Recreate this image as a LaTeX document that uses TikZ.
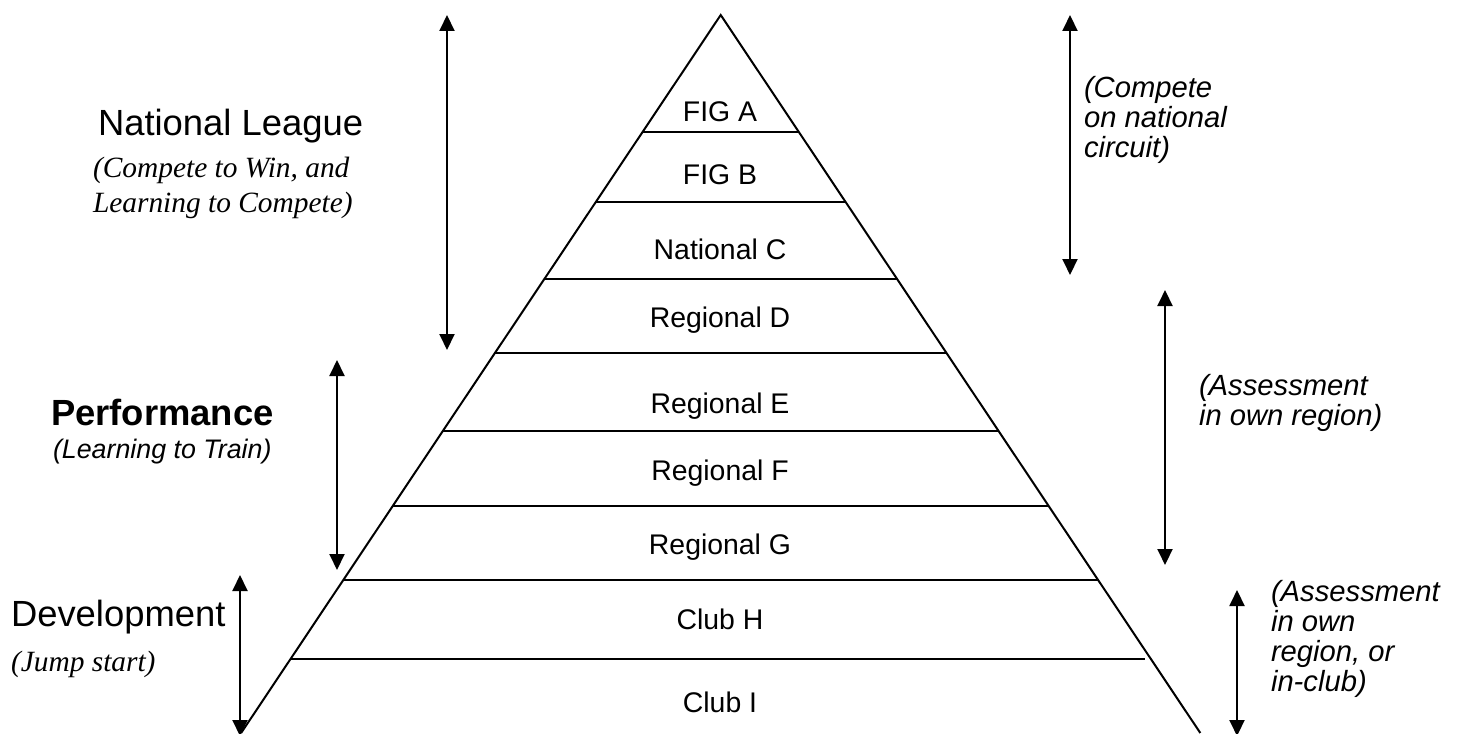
\documentclass[tikz,border=0pt]{standalone}
\usepackage{fontspec}
\setmainfont{Liberation Sans}
\newfontfamily\timesfam{Liberation Serif}
\usepackage{tikz}
\usetikzlibrary{arrows.meta}

\tikzset{
	level/.style={font=\fontsize{14.2}{16}\selectfont},
	head/.style={anchor=west, inner sep=0pt, font=\fontsize{18.2}{20}\selectfont},
	note/.style={anchor=west, inner sep=0pt, align=left, font=\fontsize{14.6}{15}\selectfont\itshape},
	snote/.style={anchor=west, inner sep=0pt, align=left, font=\fontsize{14.7}{17.5}\selectfont\timesfam\itshape}
}

\begin{document}
\begin{tikzpicture}[x=0.5pt, y=-0.5pt, line width=1pt, >={Triangle[width=7.5pt,length=8pt]}]
	\useasboundingbox (0,0) rectangle (1460,733);
	% pyramid
	\coordinate (apex) at (720.7,15);
	\coordinate (bl) at (241.1,733);
	\coordinate (br) at (1200.3,733);
	\draw (bl) -- (apex) -- (br);
	\draw (642.5,132) -- (798.9,132);
	\draw (595.8,202) -- (845.6,202);
	\draw (544.3,279) -- (897.1,279);
	\draw (494.9,353) -- (946.5,353);
	\draw (442.8,431) -- (998.6,431);
	\draw (392.7,506) -- (1048.7,506);
	\draw (343.3,580) -- (1098.1,580);
	\draw (290.5,659) -- (1145,659);
	% levels
	\node [level] (figa) at (720,112) {FIG A};
	\node [level] (figb) at (720,175) {FIG B};
	\node [level] (natc) at (720,249) {National C};
	\node [level] (regd) at (720,320) {Regional D};
	\node [level] (rege) at (720,406) {Regional E};
	\node [level] (regf) at (720,473) {Regional F};
	\node [level] (regg) at (720,547) {Regional G};
	\node [level] (clubh) at (720,619) {Club H};
	\node [level] (clubi) at (720,702) {Club I};
	% left side
	\node [head] (natl) at (97,126) {National League};
	\node [snote] (natlnote) at (92,188) {(Compete to Win, and\\Learning to Compete)};
	\node [head, font=\fontsize{18.2}{20}\selectfont\bfseries] (perf) at (50,412) {Performance};
	\node [note, font=\fontsize{13.4}{15}\selectfont\itshape] (perfnote) at (52,452) {(Learning to Train)};
	\node [head] (dev) at (10,617) {Development};
	\node [snote] (devnote) at (10,664) {(Jump start)};
	% right side
	\node [note] (natcirc) at (1083,120) {(Compete\\on national\\circuit)};
	\node [note] (ownreg) at (1198,403) {(Assessment\\in own region)};
	\node [note] (inclub) at (1270,639) {(Assessment\\in own\\region, or\\in-club)};
	% arrows
	\coordinate (natlTop) at (447,15);
	\coordinate (natlBot) at (447,350);
	\coordinate (perfTop) at (337,360);
	\coordinate (perfBot) at (337,570);
	\coordinate (devTop) at (240,575);
	\coordinate (devBot) at (240,736);
	\coordinate (natcircTop) at (1070,15);
	\coordinate (natcircBot) at (1070,275);
	\coordinate (ownregTop) at (1165,290);
	\coordinate (ownregBot) at (1165,565);
	\coordinate (inclubTop) at (1237,590);
	\coordinate (inclubBot) at (1237,736);
	\path [<->] (natlTop) edge (natlBot);
	\path [<->] (perfTop) edge (perfBot);
	\path [<->] (devTop) edge (devBot);
	\path [<->] (natcircTop) edge (natcircBot);
	\path [<->] (ownregTop) edge (ownregBot);
	\path [<->] (inclubTop) edge (inclubBot);
\end{tikzpicture}
\end{document}
